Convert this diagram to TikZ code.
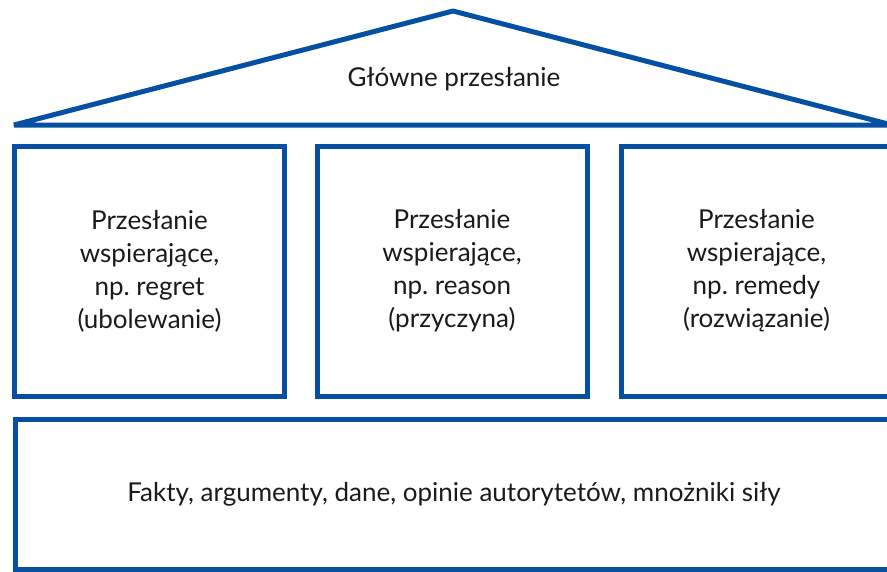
\documentclass[tikz,border=0pt]{standalone}
\usepackage{fontspec}
\setmainfont{Lato}
\frenchspacing
\definecolor{frameblue}{RGB}{6,80,164}
\definecolor{txt}{RGB}{26,26,26}
\tikzset{
  frame/.style={draw=frameblue, line width=5pt},
  pillar/.style={frame, minimum width=270pt, minimum height=250pt, inner sep=0pt, align=center, text=txt, font=\fontsize{26}{33}\selectfont},
}
\begin{document}
\frenchspacing
\begin{tikzpicture}[x=1pt,y=-1pt]
\useasboundingbox (0,0) rectangle (887,571);
\coordinate (tl) at (14,125);
\coordinate (tt) at (453,11);
\coordinate (tr) at (892,125);
\draw[frame, line join=bevel] (tl) -- (tt) -- (tr) -- cycle;
\node[text=txt, font=\fontsize{26}{33}\selectfont] (main) at (454,79) {Główne przesłanie};
\node[pillar] (p1) at (149.5,271) {Przesłanie\\wspierające,\\np.\ regret\\(ubolewanie)};
\node[pillar] (p2) at (452,271) {Przesłanie\\wspierające,\\np.\ reason\\(przyczyna)};
\node[pillar] (p3) at (756.5,271) {Przesłanie\\wspierające,\\np.\ remedy\\(rozwiązanie)};
\node[frame, minimum width=877pt, minimum height=150pt, inner sep=0pt, text=txt, font=\fontsize{26}{33}\selectfont] (base) at (454,494) {Fakty, argumenty, dane, opinie autorytetów, mnożniki siły};
\end{tikzpicture}
\end{document}
